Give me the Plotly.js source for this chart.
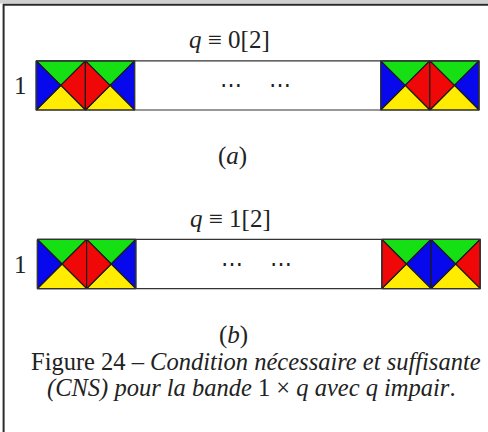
<!DOCTYPE html>
<html>
<head>
<meta charset="utf-8">
<script src="https://cdn.plot.ly/plotly-3.0.1.min.js"></script>
<style>html,body{margin:0;padding:0;background:#fff;}#chart{width:488px;height:432px;}</style>
</head>
<body>
<div id="chart"></div>
<script>
// ---- data ----
const panelTitles = ["<i>q</i> ≡ 0[2]", "<i>q</i> ≡ 1[2]"];
const panelLabels = ["(<i>a</i>)", "(<i>b</i>)"];
const rowLabel = "1";
const stripLength = 9;             // tiles in the drawn strip
const tileIndex = [0, 1, 7, 8];    // tiles actually drawn
const ellipsisIndex = [4, 5];      // where "⋯" appears
// each tile: [top, right, bottom, left]
const tilesA = [
  ["green", "red", "yellow", "blue"],
  ["green", "blue", "yellow", "red"],
  ["green", "red", "yellow", "blue"],
  ["green", "blue", "yellow", "red"]
];
const tilesB = [
  ["green", "red", "yellow", "blue"],
  ["green", "blue", "yellow", "red"],
  ["green", "blue", "yellow", "red"],
  ["green", "red", "yellow", "blue"]
];
const captionLine1 = "Figure 24 – <i>Condition nécessaire et suffisante</i>";
const captionLine2 = "<i>(CNS) pour la bande</i> 1 × <i>q avec q impair</i>.";

// ---- styles / layout ----
const palette = {green: "#14e014", red: "#f00808", blue: "#0808ec", yellow: "#ffec00"};
const W = 488, H = 432;
const X0 = 36.2, T = 49.2;
const stripTops = [60.8, 239.4];
const stripDX = [0, 1.2];
const FONT = "Liberation Serif";

const traces = [];
const annotations = [];

function addStrip(k, tiles) {
  const top = stripTops[k], ox = X0 + stripDX[k];
  tiles.forEach((tc, j) => {
    const i = tileIndex[j];
    const xl = ox + i * T, xr = xl + T, yt = top, yb = top + T;
    const xc = (xl + xr) / 2, yc = (yt + yb) / 2;
    const tris = [
      [[xl, xr, xc, xl], [yt, yt, yc, yt]],  // top
      [[xr, xr, xc, xr], [yt, yb, yc, yt]],  // right
      [[xl, xr, xc, xl], [yb, yb, yc, yb]],  // bottom
      [[xl, xl, xc, xl], [yt, yb, yc, yt]]   // left
    ];
    tris.forEach((t, m) => {
      traces.push({type: "scatter", mode: "lines", x: t[0], y: t[1], fill: "toself",
        fillcolor: palette[tc[m]], line: {color: "#1a1a1a", width: 1.2}, hoverinfo: "skip", showlegend: false});
    });
  });
  const xs = ox, xe = ox + stripLength * T;
  traces.push({type: "scatter", mode: "lines",
    x: [xs, xe, xe, xs, xs], y: [top, top, top + T, top + T, top],
    line: {color: "#333", width: 1.2}, hoverinfo: "skip", showlegend: false});
  [2, 7].forEach(i => traces.push({type: "scatter", mode: "lines",
    x: [ox + i * T, ox + i * T], y: [top, top + T],
    line: {color: "#333", width: 1.2}, hoverinfo: "skip", showlegend: false}));
  ellipsisIndex.forEach(i => annotations.push({x: ox + i * T - 2, y: top + T / 2 - 1, xref: "x", yref: "y",
    text: "⋯", showarrow: false, font: {family: FONT, size: 22, color: "#222"}}));
  annotations.push({x: 20, y: top + T / 2, xref: "x", yref: "y", text: rowLabel, showarrow: false,
    font: {family: FONT, size: 25, color: "#222"}});
  annotations.push({x: ox + 4 * T - 4, y: top - 21, xref: "x", yref: "y", text: panelTitles[k], showarrow: false,
    font: {family: FONT, size: 25, color: "#222"}});
  annotations.push({x: ox + 4 * T - 1, y: top + T + 46, xref: "x", yref: "y", text: panelLabels[k], showarrow: false,
    font: {family: FONT, size: 25, color: "#222"}});
}
addStrip(0, tilesA);
addStrip(1, tilesB);

annotations.push({x: 256, y: 361, xref: "x", yref: "y", text: captionLine1, showarrow: false,
  font: {family: FONT, size: 24.5, color: "#222"}});
annotations.push({x: 251, y: 388, xref: "x", yref: "y", text: captionLine2, showarrow: false,
  font: {family: FONT, size: 24.5, color: "#222"}});

const layout = {
  width: W, height: H,
  margin: {l: 0, r: 0, t: 0, b: 0},
  paper_bgcolor: "#fff", plot_bgcolor: "#fff",
  xaxis: {range: [0, W], visible: false, fixedrange: true},
  yaxis: {range: [H, 0], visible: false, fixedrange: true},
  showlegend: false,
  annotations: annotations,
  shapes: [
    {type: "rect", xref: "x", yref: "y", x0: 0, x1: W, y0: 0, y1: 3.5, fillcolor: "#d0d0d0", line: {width: 0}, layer: "below"},
    {type: "line", xref: "x", yref: "y", x0: 3, x1: W, y0: 4.7, y1: 4.7, line: {color: "#2a2a2a", width: 2}},
    {type: "line", xref: "x", yref: "y", x0: 3.6, x1: 3.6, y0: 4, y1: H, line: {color: "#2a2a2a", width: 2}}
  ]
};
Plotly.newPlot("chart", traces, layout, {staticPlot: true, displayModeBar: false});
</script>
</body>
</html>
